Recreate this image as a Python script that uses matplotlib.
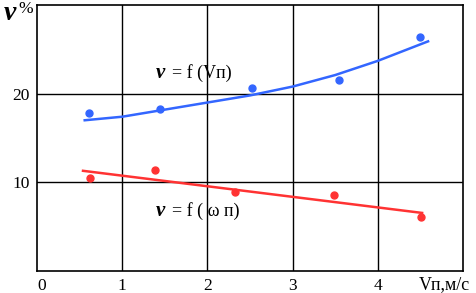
import matplotlib
matplotlib.use("Agg")
import matplotlib.pyplot as plt

# ------------------------------------
# Data
# ------------------------------------

vp_points = [0.61, 1.44, 2.52, 3.54, 4.50]
nu_vp = [17.8, 18.3, 20.6, 21.5, 26.4]

omega_points = [0.62, 1.39, 2.32, 3.49, 4.51]
nu_omega = [10.5, 11.4, 8.9, 8.6, 6.1]

# trend lines
vp_trend_x = [0.56, 1.0, 1.5, 2.0, 2.5, 3.0, 3.5, 4.0, 4.59]
vp_trend_y = [17.0, 17.4, 18.2, 19.0, 19.8, 20.8, 22.1, 23.7, 25.9]

omega_trend_x = [0.54, 4.52]
omega_trend_y = [11.3, 6.55]

x_ticks = [0, 1, 2, 3, 4]
y_ticks = [10, 20]

blue = "#3366ff"
red = "#ff3333"
serif = "Liberation Serif"

fig = plt.figure(figsize=(4.76, 2.93), dpi=100)
ax = fig.add_axes([37 / 476, 22 / 293, 426 / 476, 266 / 293])

ax.set_xlim(0, 5)
ax.set_ylim(0, 30)

for v in x_ticks[1:]:
    ax.axvline(v, color="black", lw=1.0, zorder=1)
for v in y_ticks:
    ax.axhline(v, color="black", lw=1.0, zorder=1)

for s in ax.spines.values():
    s.set_linewidth(1.2)

ax.plot(vp_trend_x, vp_trend_y, color=blue, lw=1.8, zorder=3)
ax.plot(vp_points, nu_vp, "o", color=blue, ms=5, zorder=4)

ax.plot(omega_trend_x, omega_trend_y, color=red, lw=1.8, zorder=3)
ax.plot(omega_points, nu_omega, "o", color=red, ms=5, zorder=4)

ax.set_xticks(x_ticks)
ax.set_xticklabels([str(t) for t in x_ticks], fontfamily=serif, fontsize=12.5)
ax.get_xticklabels()[0].set_horizontalalignment("left")
ax.set_yticks(y_ticks)
ax.set_yticklabels([str(t) for t in y_ticks], fontfamily=serif, fontsize=12.5)
ax.tick_params(length=0, pad=5)

# axis captions
fig.text(4 / 476, 1 - 14 / 293, "ν", fontsize=20, fontfamily=serif,
         fontstyle="italic", fontweight="bold", va="center", ha="left")
fig.text(18 / 476, 1 - 9 / 293, "%", fontsize=12.5, fontfamily=serif,
         va="center", ha="left")
fig.text(419 / 476, 1 - 285 / 293, "Vп,м/с", fontsize=13, fontfamily=serif,
         va="center", ha="left")

# curve labels
ax.text(1.39, 22.3, "ν", fontsize=15, fontfamily=serif, fontstyle="italic",
        fontweight="bold", va="center", ha="left")
ax.text(1.58, 22.3, "= f (Vп)", fontsize=13, fontfamily=serif,
        va="center", ha="left")
ax.text(1.39, 6.8, "ν", fontsize=15, fontfamily=serif, fontstyle="italic",
        fontweight="bold", va="center", ha="left")
ax.text(1.58, 6.8, "= f ( ω п)", fontsize=13, fontfamily=serif,
        va="center", ha="left")

fig.savefig("out.png", dpi=100)
plt.close(fig)
